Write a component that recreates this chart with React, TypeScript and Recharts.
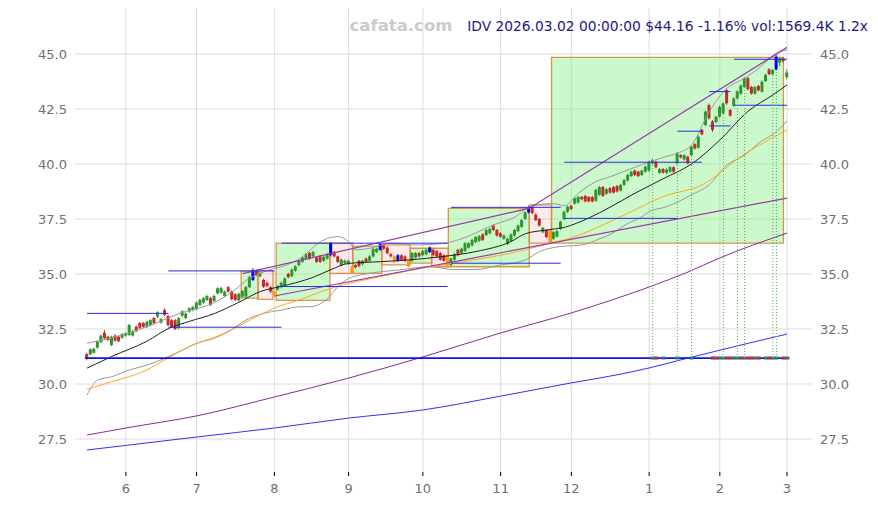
import React from 'react';
import {
  ComposedChart,
  XAxis,
  YAxis,
  CartesianGrid,
  Bar,
  Line,
  Scatter,
  ReferenceLine,
  ReferenceArea,
} from 'recharts';

// x axis: trading-day index, labelled with the month number at the first session
const monthTicks = [11, 31, 53, 74, 95, 117, 137, 159, 179, 198];
const monthLabels = ['6', '7', '8', '9', '10', '11', '12', '1', '2', '3'];
const priceTicks = [27.5, 30, 32.5, 35, 37.5, 40, 42.5, 45];

const opens = [
  31.36, 31.35, 31.42, 31.65, 31.9, 32.33, 32.15, 31.77, 32.2, 32.15,
  32.1, 32.2, 32.23, 32.2, 32.6, 32.77, 32.77, 32.6, 32.68, 33.0,
  33.06, 32.79, 33.36, 33.09, 32.9, 32.9, 32.56, 33.1, 33.0, 33.29,
  33.36, 33.4, 33.59, 33.7, 33.82, 33.9, 33.77, 34.12, 34.15, 34.0,
  34.4, 34.2, 34.08, 33.8, 33.97, 33.97, 34.4, 34.73, 35.14, 34.9,
  34.73, 34.6, 34.4, 34.2, 34.3, 34.4, 34.5, 35.0, 34.9, 35.15,
  35.4, 35.55, 35.7, 35.95, 35.8, 35.75, 35.8, 35.6, 35.7, 35.86,
  36.0, 35.8, 35.4, 35.5, 35.45, 35.33, 35.4, 35.6, 35.45, 35.7,
  35.6, 35.8, 36.0, 36.1, 36.3, 36.2, 35.9, 35.8, 35.6, 35.85,
  35.8, 35.6, 35.6, 35.75, 35.95, 35.85, 35.9, 36.0, 36.1, 36.05,
  35.95, 35.85, 35.86, 35.4, 35.65, 36.1, 35.95, 36.05, 36.2, 36.3,
  36.45, 36.5, 36.8, 36.77, 36.85, 37.2, 37.0, 36.85, 36.6, 36.36,
  36.5, 36.75, 36.95, 37.14, 37.5, 37.8, 38.05, 37.7, 37.5, 36.9,
  37.0, 37.0, 36.6, 36.7, 37.05, 37.49, 37.83, 38.1, 38.2, 38.25,
  38.5, 38.55, 38.5, 38.5, 38.33, 38.6, 38.95, 38.65, 38.9, 38.95,
  39.0, 38.8, 39.05, 39.25, 39.45, 39.7, 39.65, 39.5, 39.65, 39.7,
  40.03, 40.1, 39.6, 39.77, 39.6, 39.65, 39.85, 40.03, 40.4, 40.2,
  40.33, 40.4, 40.9, 40.74, 41.55, 41.77, 42.68, 41.93, 41.9, 42.15,
  42.3, 43.36, 42.45, 42.65, 42.98, 43.2, 43.5, 43.9, 43.5, 43.2,
  43.55, 43.29, 43.77, 44.3, 44.08, 44.3, 44.6, 44.8, 43.95,
];

const highs = [
  31.42, 31.62, 31.66, 31.98, 32.25, 32.45, 32.2, 32.2, 32.26, 32.2,
  32.32, 32.36, 32.74, 32.46, 32.66, 32.82, 32.82, 32.88, 32.95, 33.06,
  33.31, 33.0, 33.44, 33.14, 32.96, 32.95, 33.04, 33.35, 33.26, 33.49,
  33.55, 33.75, 33.88, 33.95, 34.05, 33.96, 34.06, 34.4, 34.42, 34.25,
  34.46, 34.25, 34.14, 34.16, 34.28, 34.46, 34.92, 35.26, 35.2, 35.12,
  34.79, 34.66, 34.46, 34.25, 34.5, 34.66, 34.85, 35.06, 35.25, 35.4,
  35.65, 35.8, 35.95, 36.0, 36.05, 35.8, 35.85, 35.83, 35.95, 36.45,
  36.05, 35.85, 35.7, 35.66, 35.65, 35.38, 35.45, 35.65, 35.65, 35.75,
  35.85, 36.2, 36.2, 36.4, 36.36, 36.25, 35.95, 35.85, 35.9, 35.9,
  35.85, 35.65, 36.0, 36.0, 36.0, 36.1, 36.15, 36.25, 36.15, 36.1,
  36.0, 35.9, 35.9, 35.75, 35.95, 36.15, 36.2, 36.45, 36.45, 36.6,
  36.73, 36.78, 36.85, 37.05, 37.1, 37.25, 37.05, 36.9, 36.8, 36.65,
  36.85, 37.05, 37.25, 37.5, 37.85, 38.1, 38.12, 37.75, 37.55, 37.15,
  37.05, 37.05, 36.95, 37.0, 37.42, 37.88, 38.1, 38.15, 38.5, 38.55,
  38.55, 38.6, 38.55, 38.55, 38.87, 39.0, 39.0, 38.9, 38.95, 39.0,
  39.05, 39.1, 39.32, 39.55, 39.7, 39.75, 39.7, 39.75, 39.93, 40.15,
  40.25, 40.15, 39.82, 39.82, 39.8, 39.9, 39.9, 40.55, 40.45, 40.45,
  40.38, 40.84, 40.95, 41.3, 41.6, 42.43, 42.75, 42.0, 42.2, 42.65,
  42.8, 43.42, 42.5, 43.03, 43.35, 43.62, 43.95, 43.95, 43.55, 43.55,
  43.6, 43.8, 44.1, 44.35, 44.32, 44.95, 44.85, 44.86, 44.3,
];

const lows = [
  31.08, 31.3, 31.38, 31.6, 31.86, 32.02, 31.95, 31.72, 31.92, 31.9,
  32.05, 32.15, 32.18, 32.15, 32.35, 32.5, 32.55, 32.55, 32.62, 32.72,
  33.0, 32.74, 33.08, 32.62, 32.55, 32.45, 32.48, 33.05, 32.95, 33.24,
  33.3, 33.35, 33.54, 33.65, 33.77, 33.55, 33.72, 34.06, 34.1, 33.95,
  34.15, 33.8, 33.76, 33.75, 33.92, 33.92, 34.35, 34.68, 34.9, 34.85,
  34.37, 34.4, 34.14, 33.95, 34.25, 34.35, 34.45, 34.8, 34.85, 35.1,
  35.35, 35.5, 35.65, 35.65, 35.75, 35.5, 35.5, 35.55, 35.65, 35.8,
  35.75, 35.5, 35.35, 35.45, 35.4, 35.0, 35.25, 35.3, 35.4, 35.5,
  35.55, 35.75, 35.95, 36.05, 36.1, 35.9, 35.75, 35.5, 35.55, 35.6,
  35.55, 35.3, 35.55, 35.7, 35.75, 35.8, 35.85, 35.95, 35.8, 35.75,
  35.6, 35.55, 35.28, 35.35, 35.6, 35.8, 35.9, 36.0, 36.15, 36.25,
  36.4, 36.45, 36.5, 36.72, 36.8, 36.95, 36.7, 36.65, 36.55, 36.32,
  36.45, 36.7, 36.9, 37.1, 37.45, 37.75, 37.72, 37.4, 37.15, 36.85,
  36.62, 36.4, 36.55, 36.65, 37.0, 37.45, 37.78, 37.9, 38.15, 38.2,
  38.35, 38.25, 38.25, 38.25, 38.28, 38.55, 38.5, 38.6, 38.65, 38.65,
  38.7, 38.75, 39.0, 39.2, 39.4, 39.45, 39.4, 39.45, 39.6, 39.65,
  39.98, 39.8, 39.55, 39.55, 39.55, 39.6, 39.6, 39.98, 40.25, 40.15,
  39.98, 40.35, 40.65, 40.7, 41.3, 41.72, 42.02, 41.45, 41.85, 42.1,
  42.25, 42.7, 42.15, 42.6, 42.93, 43.15, 43.45, 43.35, 43.15, 43.15,
  43.3, 43.25, 43.72, 44.03, 44.03, 44.25, 44.45, 44.6, 43.85,
];

const closes = [
  31.14, 31.58, 31.6, 31.93, 32.2, 32.08, 32.0, 32.15, 31.97, 31.95,
  32.27, 32.3, 32.68, 32.4, 32.4, 32.56, 32.6, 32.83, 32.9, 32.77,
  33.26, 32.95, 33.14, 32.68, 32.6, 32.5, 32.99, 33.3, 33.2, 33.44,
  33.5, 33.7, 33.82, 33.9, 34.0, 33.6, 34.0, 34.35, 34.36, 34.2,
  34.2, 33.86, 33.82, 34.1, 34.23, 34.4, 34.86, 35.18, 34.95, 35.05,
  34.42, 34.45, 34.2, 34.05, 34.45, 34.6, 34.8, 34.85, 35.2, 35.35,
  35.6, 35.75, 35.9, 35.7, 36.0, 35.55, 35.55, 35.78, 35.9, 36.4,
  35.8, 35.55, 35.65, 35.6, 35.6, 35.05, 35.3, 35.36, 35.6, 35.55,
  35.8, 36.14, 36.15, 36.36, 36.15, 35.94, 35.8, 35.56, 35.85, 35.65,
  35.6, 35.35, 35.95, 35.95, 35.8, 36.05, 36.1, 36.2, 35.86, 35.8,
  35.65, 35.6, 35.32, 35.7, 35.9, 35.86, 36.15, 36.4, 36.4, 36.55,
  36.68, 36.72, 36.55, 37.0, 37.05, 37.0, 36.75, 36.7, 36.75, 36.6,
  36.8, 37.0, 37.2, 37.45, 37.8, 38.0, 37.77, 37.45, 37.2, 37.1,
  36.68, 36.45, 36.9, 36.95, 37.38, 37.83, 38.06, 37.95, 38.45, 38.5,
  38.4, 38.3, 38.3, 38.3, 38.82, 38.95, 38.55, 38.85, 38.7, 38.7,
  38.75, 39.05, 39.27, 39.5, 39.65, 39.5, 39.45, 39.7, 39.88, 40.1,
  40.18, 39.85, 39.77, 39.6, 39.75, 39.85, 39.65, 40.5, 40.3, 40.4,
  40.03, 40.79, 40.7, 41.24, 41.35, 42.38, 42.08, 41.55, 42.15, 42.6,
  42.75, 42.76, 42.2, 42.98, 43.3, 43.56, 43.9, 43.4, 43.2, 43.5,
  43.35, 43.74, 44.05, 44.08, 44.27, 44.88, 44.8, 44.68, 44.16,
];

// pivot candles drawn in a different colour
const pivotHighIdx = [47, 69, 83, 88, 97, 125, 195];
const pivotLowIdx = [53, 75, 87, 91, 102, 131];

// indicator lines: [index, price]
const ma20 = [
  [0, 30.72], [7, 31.25], [17, 31.95], [23, 32.52], [29, 32.85], [36, 33.2],
  [43, 33.72], [49, 34.2], [55, 34.44], [59, 34.6], [64, 34.85], [69, 35.2],
  [74, 35.48], [83, 35.56], [91, 35.64], [101, 35.8], [110, 36.02], [120, 36.48],
  [124, 36.83], [130, 37.0], [135, 37.12], [142, 37.55], [148, 38.04], [155, 38.67],
  [163, 39.33], [171, 40.0], [179, 41.09], [187, 42.4], [194, 43.14], [198, 43.59],
];
const bandUpper = [
  [0, 31.85], [7, 32.1], [17, 32.6], [26, 33.2], [36, 33.7], [42, 34.3],
  [45, 34.7], [49, 35.03], [53, 35.26], [55, 35.33], [61, 35.79], [66, 36.47],
  [71, 36.7], [74, 36.47], [76, 36.1], [80, 36.17], [86, 36.4], [93, 36.32],
  [101, 36.4], [105, 36.55], [115, 37.23], [122, 37.68], [125, 38.06], [132, 38.2],
  [135, 38.1], [139, 38.67], [144, 39.2], [148, 39.42], [153, 39.73], [158, 40.03],
  [163, 40.3], [167, 40.49], [171, 40.86], [176, 42.38], [181, 43.44], [186, 43.9],
  [190, 44.35], [195, 45.03], [198, 45.18],
];
const bandLower = [
  [0, 29.5], [3, 30.18], [7, 30.33], [12, 30.64], [17, 30.86], [22, 31.17],
  [26, 31.47], [31, 31.85], [36, 32.08], [40, 32.38], [45, 32.91], [50, 33.21],
  [55, 33.36], [60, 33.51], [63, 33.51], [67, 33.74], [72, 34.58], [74, 34.8],
  [80, 35.03], [88, 35.18], [97, 35.33], [104, 35.2], [110, 35.2], [116, 35.38],
  [124, 35.64], [128, 36.02], [134, 36.25], [140, 36.32], [145, 36.6], [148, 36.8],
  [151, 37.1], [153, 37.3], [157, 37.6], [159, 37.83], [164, 38.06], [171, 38.6],
  [176, 39.05], [181, 39.95], [186, 40.4], [190, 40.95], [195, 41.47], [198, 41.95],
];
const ma60 = [
  [0, 29.76], [7, 30.1], [17, 30.64], [22, 31.1], [29, 31.7], [38, 32.25],
  [43, 32.65], [49, 33.15], [53, 33.45], [60, 33.82], [69, 34.35], [83, 34.88],
  [91, 35.15], [102, 35.45], [111, 35.68], [124, 36.1], [131, 36.4], [135, 36.55],
  [153, 37.76], [163, 38.52], [174, 39.05], [186, 40.45], [198, 41.55],
];
const maLongPurple = [
  [0, 27.68], [11, 28.0], [31, 28.55], [53, 29.41], [74, 30.27], [95, 31.23],
  [117, 32.32], [137, 33.23], [159, 34.41], [170, 35.09], [179, 35.73], [198, 36.86],
];
const maLongBlue = [
  [0, 27.0], [31, 27.59], [53, 28.0], [74, 28.45], [95, 28.82], [117, 29.45],
  [137, 30.05], [151, 30.45], [159, 30.73], [170, 31.18], [198, 32.27],
];
const trendTop = [[44, 35.02], [125, 37.98], [198, 45.3]];
const trendBottom = [[53, 34.0], [198, 38.45]];

// support / resistance segments: [price, fromIdx, toIdx]
const levels = [
  [33.21, 0, 23], [32.58, 23, 55], [35.14, 23, 53],
  [36.4, 55, 102], [34.43, 54, 102],
  [38.03, 103, 134], [35.49, 103, 134],
  [40.08, 135, 174], [37.53, 135, 167],
  [41.49, 167, 174],
  [43.29, 176, 182], [41.73, 176, 182],
  [44.76, 183, 198], [42.67, 183, 198],
];
const baseLevel = 31.18;

// ranges: [fromIdx, toIdx, low, high, rising]
const boxes: [number, number, number, number, boolean][] = [
  [43.6, 48.4, 33.9, 35.13, true],
  [48.4, 52.6, 33.85, 35.15, false],
  [53.5, 68.7, 33.8, 36.4, true],
  [68.7, 75.2, 35.03, 36.4, false],
  [75.2, 83.4, 35.03, 36.27, true],
  [83.4, 91.4, 35.41, 36.32, false],
  [91.4, 97.5, 35.49, 36.17, true],
  [97.5, 102.2, 35.33, 36.17, false],
  [102.2, 125.1, 35.33, 37.98, true],
  [125.1, 131.4, 36.4, 38.14, false],
  [131.4, 197, 36.4, 44.85, true],
];

const buyIdx = [160, 163, 167, 171, 179, 180, 183, 184, 186, 189, 192, 194, 195, 198];
const sellIdx = [161, 177, 178, 181, 182, 185, 187, 188, 190, 193, 197];
const dropIdx = [160, 167, 171, 180, 184, 186, 194, 195];

const GREEN = '#2f962f';
const RED = '#c42a2a';

const rows = closes.map((c, i) => ({
  i,
  o: opens[i],
  h: highs[i],
  l: lows[i],
  c,
  range: [lows[i], highs[i]],
}));

const pts = (a: number[][]) => a.map(([i, v]) => ({ i, v }));

function Candle(props: any) {
  const { x, y, width, height, payload } = props;
  if (!payload) return null;
  const { o, h, l, c, i } = payload;
  const top = Math.min(y, y + height);
  const full = Math.abs(height);
  const cx = x + width / 2;
  const yOf = (v: number) => top + (h === l ? 0 : ((h - v) / (h - l)) * full);
  const bTop = yOf(Math.max(o, c));
  const bBot = yOf(Math.min(o, c));
  let color = c >= o ? GREEN : RED;
  if (pivotHighIdx.includes(i)) color = '#0000ee';
  else if (pivotLowIdx.includes(i)) color = '#ff9a00';
  return (
    <g>
      <line x1={cx} x2={cx} y1={top} y2={top + full} stroke={color} strokeWidth={1} />
      <rect x={cx - 1.5} y={bTop} width={3} height={Math.max(bBot - bTop, 0.8)} fill={color} />
    </g>
  );
}

const square = (fill: string) => (p: any) => (
  <rect x={p.cx - 2} y={p.cy - 2} width={4} height={4} fill={fill} fillOpacity={0.6} />
);

const tickStyle = { fill: '#707070', fontSize: 13, fontFamily: 'DejaVu Sans' };

export default function App() {
  return (
    <div style={{ position: 'absolute', left: 0, top: 0, width: 878, height: 505, background: '#fff' }}>
      <ComposedChart
        width={878}
        height={505}
        data={rows}
        margin={{ top: 8, right: 0, bottom: 0, left: 0 }}
        style={{ fontFamily: 'DejaVu Sans' }}
      >
        <CartesianGrid
          stroke="#dcdcdc"
          syncWithTicks
          horizontalValues={priceTicks}
          verticalValues={monthTicks}
        />
        <XAxis
          dataKey="i"
          type="number"
          domain={[-3.4, 205.07]}
          ticks={monthTicks}
          tickFormatter={(v) => monthLabels[monthTicks.indexOf(v)] ?? ''}
          allowDataOverflow
          axisLine={false}
          tickLine={{ stroke: '#000' }}
          tickSize={4}
          tickMargin={8}
          height={33}
          tick={tickStyle}
        />
        <YAxis
          domain={[26.0, 47.09]}
          ticks={priceTicks}
          tickFormatter={(v) => v.toFixed(1)}
          allowDataOverflow
          axisLine={false}
          tickLine={false}
          width={75}
          tick={tickStyle}
        />
        <YAxis
          yAxisId="r"
          orientation="right"
          domain={[26.0, 47.09]}
          ticks={priceTicks}
          tickFormatter={(v) => v.toFixed(1)}
          allowDataOverflow
          axisLine={false}
          tickLine={false}
          width={66}
          tick={tickStyle}
        />

        {boxes.map(([a, b, lo, hi, up], k) => (
          <ReferenceArea
            key={'box' + k}
            x1={a}
            x2={b}
            y1={lo}
            y2={hi}
            fill={up ? '#8ef28e' : '#f4b0b0'}
            fillOpacity={up ? 0.45 : 0.25}
            stroke="#d88a3c"
            strokeOpacity={0.9}
            strokeWidth={1.3}
          />
        ))}

        <Line data={pts(maLongBlue)} dataKey="v" type="monotone" stroke="#3030ff" strokeWidth={1} dot={false} isAnimationActive={false} />
        <Line data={pts(maLongPurple)} dataKey="v" type="monotone" stroke="#8a2a9a" strokeWidth={1} dot={false} isAnimationActive={false} />
        <Line data={pts(bandUpper)} dataKey="v" type="monotone" stroke="#999" strokeWidth={1} dot={false} isAnimationActive={false} />
        <Line data={pts(bandLower)} dataKey="v" type="monotone" stroke="#999" strokeWidth={1} dot={false} isAnimationActive={false} />
        <Line data={pts(ma60)} dataKey="v" type="monotone" stroke="#ffa820" strokeWidth={1} dot={false} isAnimationActive={false} />
        <Line data={pts(ma20)} dataKey="v" type="monotone" stroke="#222" strokeWidth={1} dot={false} isAnimationActive={false} />
        <Line data={pts(trendTop)} dataKey="v" type="linear" stroke="#9a3aa8" strokeWidth={1.2} dot={false} isAnimationActive={false} />
        <Line data={pts(trendBottom)} dataKey="v" type="linear" stroke="#9a3aa8" strokeWidth={1.2} dot={false} isAnimationActive={false} />

        {levels.map(([p, a, b], k) => (
          <ReferenceLine
            key={'lv' + k}
            segment={[{ x: a, y: p }, { x: b, y: p }]}
            stroke="#2a2ae8"
            strokeWidth={1}
          />
        ))}
        <ReferenceLine
          segment={[{ x: -0.6, y: baseLevel }, { x: 198.7, y: baseLevel }]}
          stroke="#1010f0"
          strokeWidth={1.8}
        />
        {dropIdx.map((i) => (
          <ReferenceLine
            key={'dr' + i}
            segment={[{ x: i, y: baseLevel }, { x: i, y: lows[i] }]}
            stroke="#4caf50"
            strokeDasharray="1 2"
            strokeWidth={1}
          />
        ))}

        <Bar dataKey="range" barSize={3} shape={(p: any) => <Candle {...p} />} isAnimationActive={false} />

        <Scatter data={buyIdx.map((i) => ({ i, v: baseLevel }))} dataKey="v" shape={square('#3aa03a')} isAnimationActive={false} />
        <Scatter data={sellIdx.map((i) => ({ i, v: baseLevel }))} dataKey="v" shape={square('#d03a3a')} isAnimationActive={false} />
      </ComposedChart>
      <svg width={878} height={505} style={{ position: 'absolute', left: 0, top: 0, pointerEvents: 'none' }}>
        <text x={401} y={31} textAnchor="middle" fontFamily="DejaVu Sans" fontWeight="bold" fontSize={16.5} fill="#cbcbcb">
          cafata.com
        </text>
        <text x={868} y={31} textAnchor="end" fontFamily="DejaVu Sans" fontSize={13.8} fill="#1c1c84">
          IDV 2026.03.02 00:00:00 $44.16 -1.16% vol:1569.4K 1.2x
        </text>
      </svg>
    </div>
  );
}
